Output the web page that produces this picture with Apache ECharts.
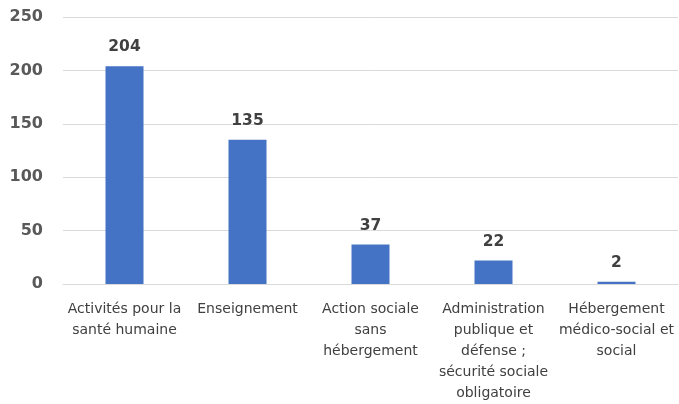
<!DOCTYPE html>
<html>
<head>
<meta charset="utf-8">
<script src="https://cdn.jsdelivr.net/npm/echarts@6/dist/echarts.min.js"></script>
<style>
  html, body { margin: 0; padding: 0; background: #ffffff; }
  #chart { width: 679px; height: 404px; }
</style>
</head>
<body>
<div id="chart"></div>
<script>
// Secteurs d'activité (libellés découpés sur plusieurs lignes)
const categories = [
  "Activités pour la\nsanté humaine",
  "Enseignement",
  "Action sociale\nsans\nhébergement",
  "Administration\npublique et\ndéfense ;\nsécurité sociale\nobligatoire",
  "Hébergement\nmédico-social et\nsocial"
];
const values = [204, 135, 37, 22, 2];
const yTicks = { min: 0, max: 250, interval: 50 };

const chart = echarts.init(document.getElementById('chart'), null, { renderer: 'canvas' });
chart.setOption({
  animation: false,
  grid: { left: 63, right: 1, top: 17, bottom: 116, containLabel: false },
  xAxis: {
    type: 'category',
    data: categories,
    axisLine: { show: true, lineStyle: { color: '#D9D9D9', width: 1 } },
    axisTick: { show: false },
    axisLabel: {
      interval: 0,
      margin: 15,
      color: '#404040',
      fontFamily: 'DejaVu Sans',
      fontSize: 14,
      lineHeight: 21
    }
  },
  yAxis: {
    type: 'value',
    min: yTicks.min,
    max: yTicks.max,
    interval: yTicks.interval,
    axisLine: { show: false },
    axisTick: { show: false },
    splitLine: { lineStyle: { color: '#D9D9D9', width: 1 } },
    axisLabel: {
      margin: 20,
      color: '#595959',
      fontFamily: 'DejaVu Sans',
      fontWeight: 'bold',
      fontSize: 16
    }
  },
  series: [{
    type: 'bar',
    data: values,
    barWidth: 38,
    itemStyle: { color: '#4472C4' },
    label: {
      show: true,
      position: 'top',
      distance: 11,
      color: '#404040',
      fontFamily: 'DejaVu Sans',
      fontWeight: 'bold',
      fontSize: 15.5
    }
  }]
});
</script>
</body>
</html>
